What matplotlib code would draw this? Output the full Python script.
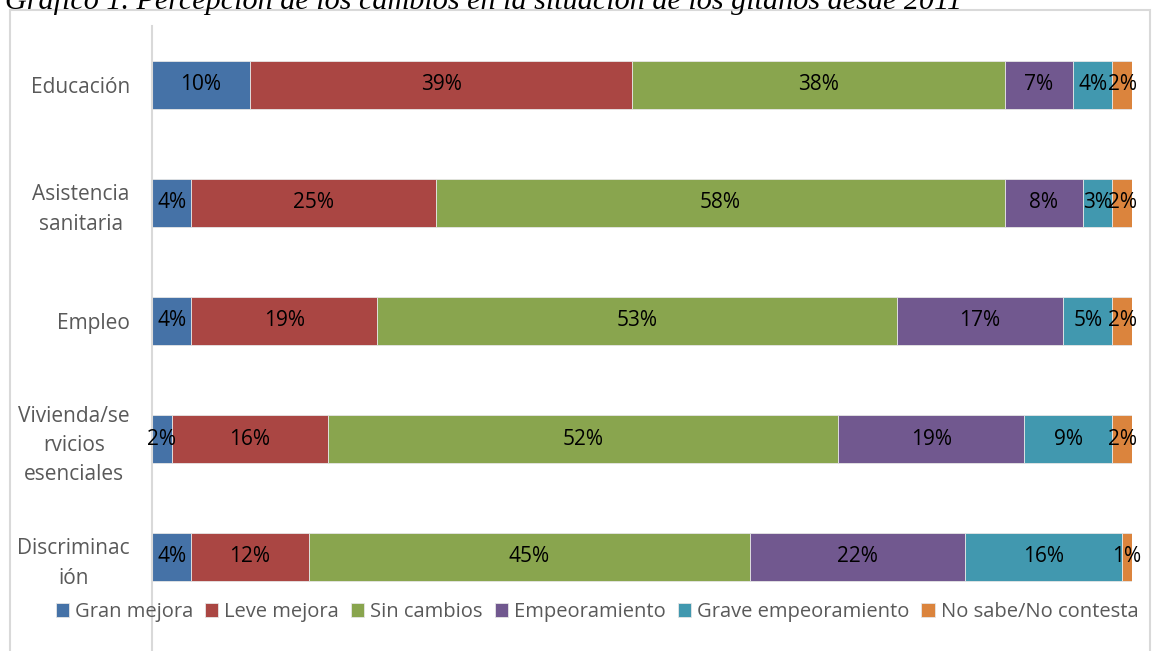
import numpy as np
import matplotlib.pyplot as plt
from matplotlib.patches import Rectangle

categorias = ['Educación', 'Asistencia\nsanitaria', 'Empleo',
              'Vivienda/se\nrvicios\nesenciales', 'Discriminac\nión']
series = ['Gran mejora', 'Leve mejora', 'Sin cambios', 'Empeoramiento',
          'Grave empeoramiento', 'No sabe/No contesta']
gran_mejora = [10, 4, 4, 2, 4]
leve_mejora = [39, 25, 19, 16, 12]
sin_cambios = [38, 58, 53, 52, 45]
empeoramiento = [7, 8, 17, 19, 22]
grave_empeoramiento = [4, 3, 5, 9, 16]
no_sabe = [2, 2, 2, 2, 1]

colores = ['#4572A7', '#AA4643', '#89A54E', '#71588F', '#4198AF', '#DB843D']

datos = np.array([gran_mejora, leve_mejora, sin_cambios, empeoramiento,
                  grave_empeoramiento, no_sabe], dtype=float)
totales = datos.sum(axis=0)
fracc = datos / totales

W, H = 1152, 651
fig = plt.figure(figsize=(W / 100, H / 100), dpi=100)
plt.rcParams['font.family'] = ['Open Sans', 'DejaVu Sans']

# marco gris del grafico
fig.patches.append(Rectangle((10 / W, -0.05), 1140 / W, 1 - 10 / H + 0.05,
                             transform=fig.transFigure, fill=False,
                             edgecolor='#D9D9D9', lw=1.5))

fig.text(5 / W, 1 - 9 / H,
         'Gráfico 1. Percepción de los cambios en la situación de los gitanos desde 2011',
         family='Liberation Serif', style='italic', fontsize=21.7, va='baseline', ha='left')

ax = fig.add_axes([152 / W, 0, 980 / W, (H - 26) / H])
y = np.arange(len(categorias))
izq = np.zeros(len(categorias))
for i, nombre in enumerate(series):
    ax.barh(y, fracc[i], left=izq, height=0.41, color=colores[i],
            edgecolor='#E6E6E6', linewidth=0.6, label=nombre)
    for j in range(len(categorias)):
        ax.text(izq[j] + fracc[i][j] / 2, y[j], '%d%%' % datos[i][j],
                ha='center', va='center', fontsize=15, color='black')
    izq += fracc[i]

ax.set_xlim(0, 1)
ax.set_ylim((H - 85) / 118, -0.5)
ax.set_yticks(y)
ax.set_yticklabels(categorias, fontsize=15, color='#595959',
                   multialignment='center', linespacing=1.5)
ax.tick_params(axis='y', length=0, pad=16)
ax.set_xticks([])
for s in ['top', 'right', 'bottom']:
    ax.spines[s].set_visible(False)
ax.spines['left'].set_color('#D9D9D9')
ax.spines['left'].set_linewidth(1.5)

fig.legend(loc='center', bbox_to_anchor=(597 / W, 1 - 612 / H), ncol=6,
           frameon=False, fontsize=14.5, handlelength=0.65, handleheight=0.65,
           handletextpad=0.3, columnspacing=0.6, labelcolor='#595959',
           borderaxespad=0)

fig.savefig('out.png', dpi=100)
